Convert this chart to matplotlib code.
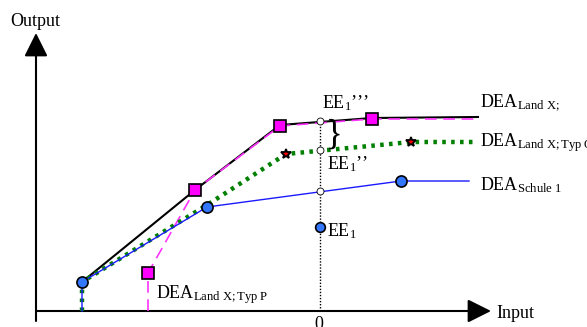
import matplotlib
matplotlib.use("Agg")
import matplotlib.pyplot as plt

plt.rcParams["font.family"] = ["Liberation Serif", "DejaVu Serif"]
plt.rcParams["mathtext.fontset"] = "custom"
plt.rcParams["mathtext.rm"] = "Liberation Serif"
plt.rcParams["mathtext.it"] = "Liberation Serif:italic"

# Frontiers (input, output)
land_x_x = [46, 159, 244, 336, 442]
land_x_y = [29, 121, 186, 193, 194]

typ_p_x = [112, 112, 159, 244, 336, 439]
typ_p_y = [0, 38, 121, 185, 192, 192]

typ_oe_x = [46, 46, 171, 250, 375, 437]
typ_oe_y = [0, 29, 106, 157, 169, 169]

schule_x = [46, 46, 171, 365, 433]
schule_y = [0, 29, 104, 130, 130]

# observed units on each frontier
sq_x = [112, 159, 244, 336]
sq_y = [38, 121, 185, 192]
star_x = [250, 375]
star_y = [157, 169]
circ_x = [46, 171, 365]
circ_y = [29, 104, 130]

# unit EE1 and its projections
ee1_x = 284
ee1_y = 84
proj_y = [120, 161, 190]

fig = plt.figure(figsize=(5.87, 3.27), dpi=100)
ax = fig.add_axes([0, 0, 1, 1])
ax.set_xlim(-36, 551)
ax.set_ylim(-16, 311)
ax.axis("off")

# axes with arrows
arr = dict(arrowstyle="-|>,head_length=0.8,head_width=0.4", color="black",
           lw=1.5, mutation_scale=18, shrinkA=0, shrinkB=0)
ax.annotate("", xy=(0, 278), xytext=(0, -10), arrowprops=arr)
ax.annotate("", xy=(455, 0), xytext=(0, 0), arrowprops=arr)

ax.plot([ee1_x, ee1_x], [0, 191], color="black", lw=1, ls=(0, (1, 1.2)), zorder=1)

ax.plot(land_x_x, land_x_y, color="black", lw=1.5, zorder=2)
ax.plot(typ_p_x, typ_p_y, color="#ff33ff", lw=1.2, ls=(0, (7, 4)), zorder=3)
ax.plot(typ_oe_x, typ_oe_y, color="#008000", lw=3.2, ls=(0, (0.8, 1.2)), zorder=3)
ax.plot(schule_x, schule_y, color="#1a1aff", lw=1, zorder=3)

ax.plot(sq_x, sq_y, ls="none", marker="s", ms=8, mfc="#ff00ff", mec="black", mew=1.2, zorder=5)
ax.plot(star_x, star_y, ls="none", marker="*", ms=7.5, mfc="#ff0000", mec="black", mew=1.3, zorder=5)
ax.plot(circ_x, circ_y, ls="none", marker="o", ms=8, mfc="#3377ff", mec="black", mew=1.2, zorder=5)
ax.plot([ee1_x], [ee1_y], ls="none", marker="o", ms=7, mfc="#3377ff", mec="black", mew=1.2, zorder=5)
ax.plot([ee1_x] * 3, proj_y, ls="none", marker="o", ms=5, mfc="white", mec="black",
        mew=0.6, zorder=6)

fs = 13
ax.text(-26, 289, "Output", fontsize=fs, va="center", ha="left")
ax.text(460, -2, "Input", fontsize=fs, va="center", ha="left")
ax.text(283, -5, "0", fontsize=fs, va="top", ha="center")
ax.text(286, 208, r"EE$_{\mathrm{1}}$’’’", fontsize=fs, va="center", ha="left")
ax.text(291, 147, r"EE$_{\mathrm{1}}$’’", fontsize=fs, va="center", ha="left")
ax.text(291, 80, r"EE$_{\mathrm{1}}$", fontsize=fs, va="center", ha="left")
ax.text(290, 176, "}", fontsize=25, va="center", ha="left")

ax.text(444, 208, r"DEA$_{\mathrm{Land\ X;}}$", fontsize=fs, va="center", ha="left")
ax.text(444, 168, r"DEA$_{\mathrm{Land\ X;Typ\ Ö}}$", fontsize=fs, va="center", ha="left")
ax.text(444, 126, r"DEA$_{\mathrm{Schule\ 1}}$", fontsize=fs, va="center", ha="left")
ax.text(120, 16, r"DEA$_{\mathrm{Land\ X;Typ\ P}}$", fontsize=fs, va="center", ha="left")

fig.savefig("out.png", dpi=100)
